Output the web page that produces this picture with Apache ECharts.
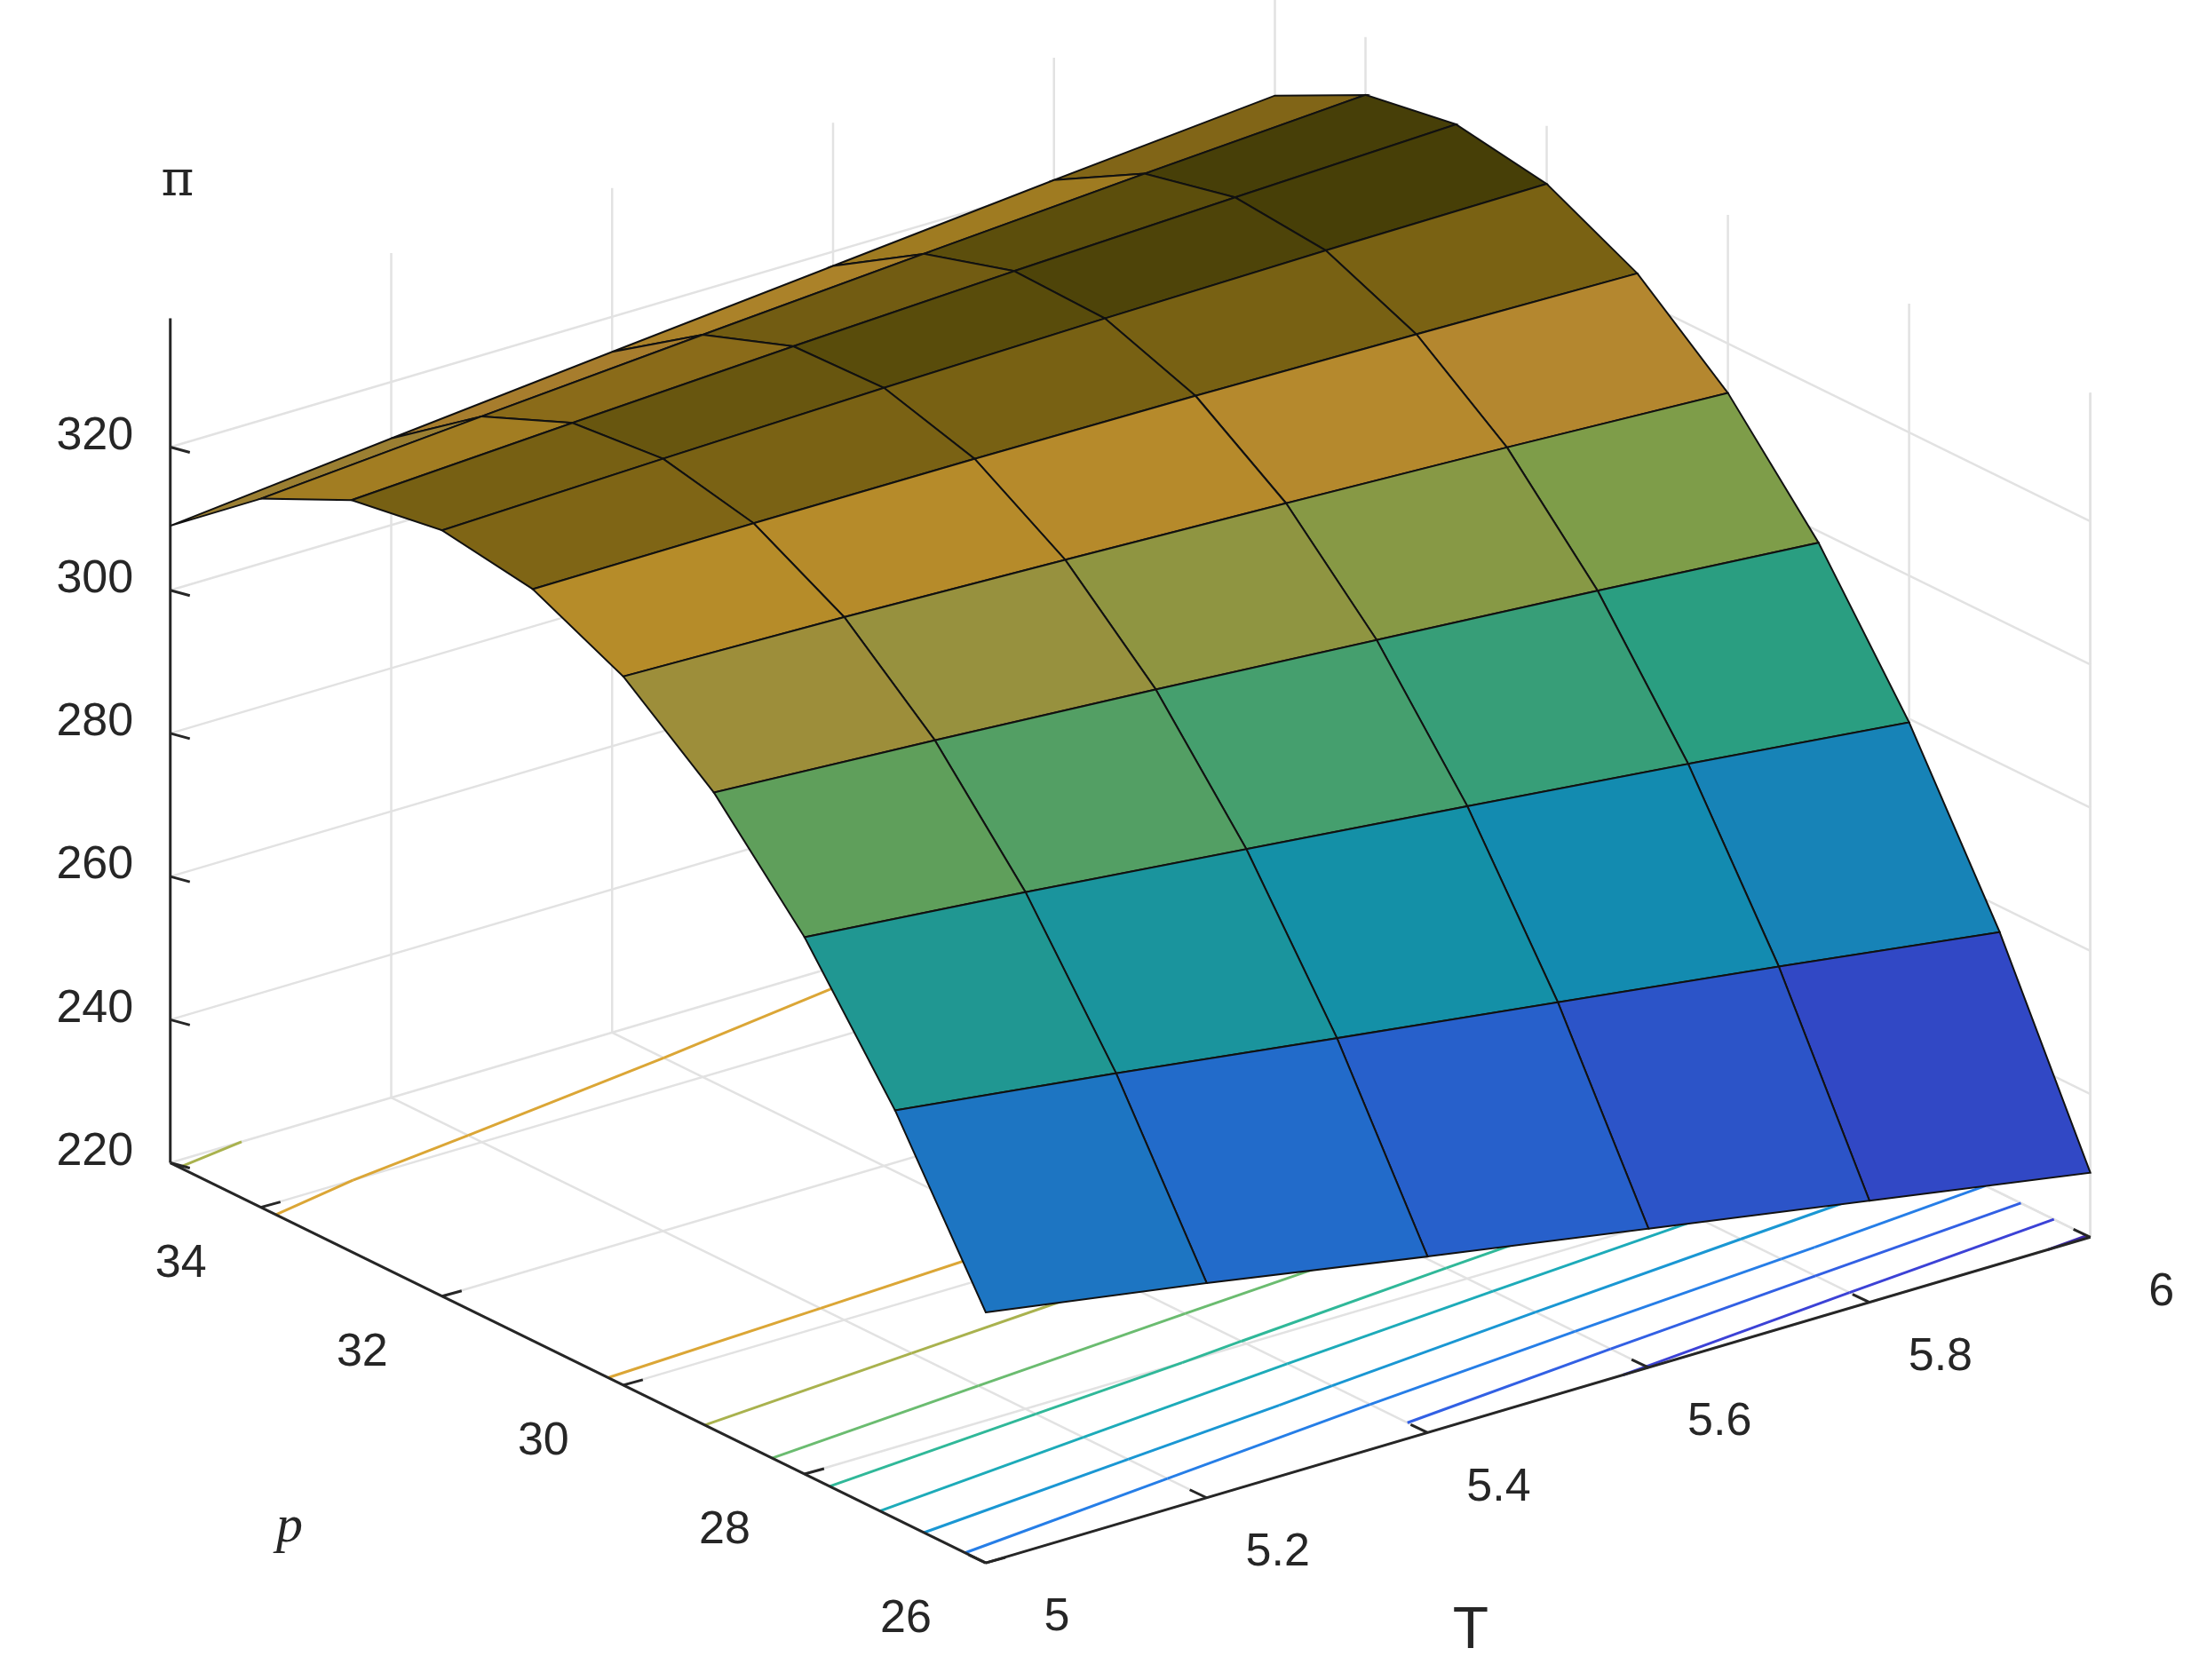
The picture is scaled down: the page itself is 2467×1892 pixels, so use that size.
<!DOCTYPE html>
<html><head><meta charset="utf-8">
<script src="https://cdn.jsdelivr.net/npm/echarts@6/dist/echarts.min.js"></script>
<style>html,body{margin:0;background:#fff}#c{width:2467px;height:1892px}</style>
</head><body><div id="c"></div>
<script>
// Data
const T_VALUES = [5, 5.2, 5.4, 5.6, 5.8, 6];
const P_VALUES = [26, 27, 28, 29, 30, 31, 32, 33, 34, 35];
const PI_T50 = [255, 277, 295, 309, 319, 325, 327, 325, 319, 309];
const PI_T52 = [250, 273.1, 292.2, 307.2, 318.2, 325.1, 327.9, 326.7, 321.4, 312.1];
const PI_T54 = [244.6, 268.9, 289.1, 305.2, 317.1, 325.0, 328.7, 328.3, 323.7, 315.1];
const PI_T56 = [239.4, 264.8, 286.0, 303.0, 315.9, 324.7, 329.3, 329.7, 325.9, 318.0];
const PI_T58 = [234.2, 260.7, 282.8, 300.8, 314.6, 324.2, 329.7, 330.9, 328.0, 320.9];
const PI_T60 = [229, 256.4, 279.5, 298.4, 313.1, 323.6, 329.9, 332, 329.9, 323.6];
const PI_ROWS = [PI_T50, PI_T52, PI_T54, PI_T56, PI_T58, PI_T60];
const Z_TICKS = [220, 240, 260, 280, 300, 320];
const P_TICKS = [26, 28, 30, 32, 34];
const T_TICKS = [5, 5.2, 5.4, 5.6, 5.8, 6];
const CONTOUR_LEVELS = [230, 240, 250, 260, 270, 280, 290, 300, 310, 320];

const Z_MIN = 220, Z_MAX = 338, P_MIN = 26, P_MAX = 35, T_MIN = 5, T_MAX = 6;
const S = 2467 / 1567;
function proj(p, T, z) {
  return [S * (705 + (T - 5) * 790 - (p - 26) * 64.8),
          S * (1118 - (T - 5) * 233 - (p - 26) * 31.8 - (z - 220) * 5.12)];
}
const PAR = [[0,[62,38,168]],[0.12,[60,70,220]],[0.28,[40,120,235]],[0.45,[20,165,200]],[0.6,[50,185,150]],[0.74,[140,190,90]],[0.86,[215,160,60]],[0.94,[230,180,40]],[1,[240,220,20]]];
function parula(v, f) {
  let t = Math.max(0, Math.min(1, (v - 229) / (332 - 229)));
  for (let i = 1; i < PAR.length; i++) {
    if (t <= PAR[i][0]) {
      const a = PAR[i-1], b = PAR[i], u = (t - a[0]) / (b[0] - a[0]);
      const c = a[1].map((x, k) => Math.round((x + (b[1][k] - x) * u) * f));
      return 'rgb(' + c.join(',') + ')';
    }
  }
  return 'rgb(240,220,20)';
}

const chart = echarts.init(document.getElementById('c'));
function renderItem(params, api) {
  const C = (p, T, z) => api.coord(proj(p, T, z));
  const ch = [];
  const line = (a, b, stroke, w) => ch.push({type:'line', shape:{x1:a[0],y1:a[1],x2:b[0],y2:b[1]}, style:{stroke, lineWidth:w}, silent:true});
  const txt = (pt, s, opts) => ch.push({type:'text', x:pt[0], y:pt[1], style:Object.assign({text:s, fill:'#262626', font:'52px Arial', align:'center', verticalAlign:'middle'}, opts||{})});
  const G = '#e2e2e2';
  Z_TICKS.forEach(z => { line(C(P_MAX,T_MIN,z), C(P_MAX,T_MAX,z), G, 2.5); line(C(P_MAX,T_MAX,z), C(P_MIN,T_MAX,z), G, 2.5); });
  T_TICKS.forEach(T => { line(C(P_MAX,T,Z_MIN), C(P_MAX,T,Z_MAX), G, 2.5); line(C(P_MAX,T,Z_MIN), C(P_MIN,T,Z_MIN), G, 2.5); });
  P_TICKS.forEach(p => { line(C(p,T_MAX,Z_MIN), C(p,T_MAX,Z_MAX), G, 2.5); line(C(p,T_MIN,Z_MIN), C(p,T_MAX,Z_MIN), G, 2.5); });
  line(C(P_MIN,T_MAX,Z_MIN), C(P_MIN,T_MAX,Z_MAX), G, 2.5);
  const nT = T_VALUES.length, nP = P_VALUES.length;
  CONTOUR_LEVELS.forEach(L => {
    const col = parula(L, 1);
    for (let i = 0; i < nT - 1; i++) for (let j = 0; j < nP - 1; j++) {
      const cs = [[i,j],[i+1,j],[i+1,j+1],[i,j+1]];
      const pts = [];
      for (let k = 0; k < 4; k++) {
        const a = cs[k], b = cs[(k+1)%4];
        const va = PI_ROWS[a[0]][a[1]], vb = PI_ROWS[b[0]][b[1]];
        if ((va - L) * (vb - L) < 0) {
          const u = (L - va) / (vb - va);
          const T = T_VALUES[a[0]] + (T_VALUES[b[0]] - T_VALUES[a[0]]) * u;
          const p = P_VALUES[a[1]] + (P_VALUES[b[1]] - P_VALUES[a[1]]) * u;
          pts.push(C(p, T, Z_MIN));
        }
      }
      for (let k = 0; k + 1 < pts.length; k += 2) line(pts[k], pts[k+1], col, 3);
    }
  });
  const K = '#262626';
  line(C(P_MAX,T_MIN,Z_MIN), C(P_MAX,T_MIN,Z_MAX), K, 3);
  line(C(P_MAX,T_MIN,Z_MIN), C(P_MIN,T_MIN,Z_MIN), K, 3);
  line(C(P_MIN,T_MIN,Z_MIN), C(P_MIN,T_MAX,Z_MIN), K, 3);
  Z_TICKS.forEach(z => { const a = C(P_MAX,T_MIN,z); line(a, [a[0]+22,a[1]+6], K, 3); txt([a[0]-85,a[1]-12], String(z)); });
  P_TICKS.forEach(p => { const a = C(p,T_MIN,Z_MIN); line(a, [a[0]+22,a[1]-6], K, 3); txt([a[0]-90,a[1]+64], String(p)); });
  T_TICKS.forEach(T => { const a = C(P_MIN,T,Z_MIN); line(a, [a[0]-19,a[1]-9], K, 3); txt([a[0]+80,a[1]+62], String(T)); });
  txt(api.coord([200,205]), 'π', {font:'56px "DejaVu Serif", serif'});
  txt(api.coord([326,1720]), 'p', {font:'italic 60px "Liberation Serif", serif'});
  txt(api.coord([1656,1838]), 'T', {font:'66px Arial'});
  const quads = [];
  for (let i = 0; i < nT - 1; i++) for (let j = 0; j < nP - 1; j++) {
    const corners = [[i,j],[i+1,j],[i+1,j+1],[i,j+1]];
    const zs = corners.map(c => PI_ROWS[c[0]][c[1]]);
    const zAvg = zs.reduce((a,b)=>a+b,0)/4;
    const slope = ((zs[2]+zs[3]) - (zs[0]+zs[1])) / 2;
    const f = Math.max(0.3, Math.min(0.92, 0.8 + slope * 0.003 - Math.max(0, zAvg - 322) * 0.06));
    const fl = proj((P_VALUES[j]+P_VALUES[j+1])/2, (T_VALUES[i]+T_VALUES[i+1])/2, Z_MIN);
    quads.push({depth: fl[1], pts: corners.map(c => C(P_VALUES[c[1]], T_VALUES[c[0]], PI_ROWS[c[0]][c[1]])), fill: parula(zAvg, f)});
  }
  quads.sort((a,b) => a.depth - b.depth);
  quads.forEach(q => ch.push({type:'polygon', shape:{points:q.pts}, style:{fill:q.fill, stroke:'#111', lineWidth:2}, silent:true}));
  return {type:'group', children: ch};
}
chart.setOption({
  animation:false,
  grid:{left:0,right:0,top:0,bottom:0},
  xAxis:{type:'value',min:0,max:2467,show:false},
  yAxis:{type:'value',min:0,max:1892,inverse:true,show:false},
  series:[{type:'custom', renderItem, data:[[0,0]], clip:false}]
});
</script></body></html>
